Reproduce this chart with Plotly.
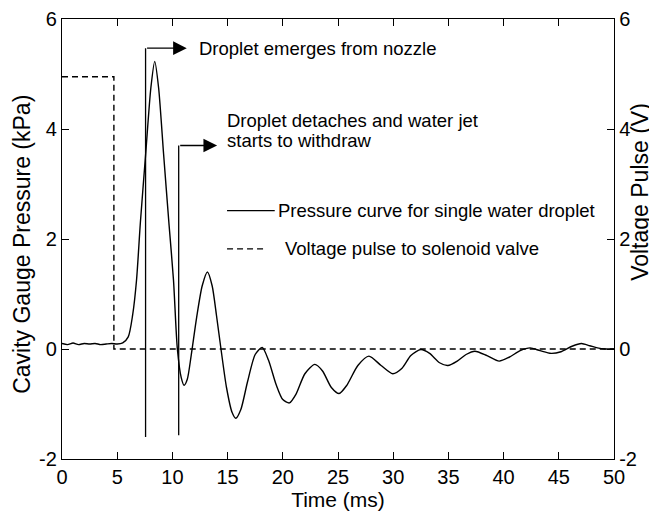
import plotly.graph_objects as go

# ---- data ----
time_ms = [0, 0.5, 1.0, 1.5, 2.0, 2.5, 3.0, 3.5, 4.0, 4.5, 5.0, 5.5,
           6.0, 6.4, 6.75, 7.1, 7.6, 8.05, 8.4, 8.75, 9.2, 9.7,
           10.1, 10.45, 10.8, 11.06, 11.35, 11.7, 12.2, 12.7, 13.17, 13.6, 14.0,
           14.4, 14.9, 15.4, 15.74, 16.2, 16.8, 17.5, 18.13, 18.7, 19.4, 20.0,
           20.6, 21.2, 22.0, 22.9, 23.6, 24.4, 25.1, 25.8, 26.8, 27.8, 28.9,
           29.96, 30.8, 31.6, 32.5, 33.3, 34.2, 34.95, 35.8, 36.6, 37.4, 38.5,
           39.6, 40.5, 41.5, 42.4, 43.3, 44.3, 45.2, 46.2, 47.05, 47.8, 48.5,
           49.2, 50.0]
pressure_kpa = [0.10, 0.08, 0.11, 0.08, 0.10, 0.09, 0.10, 0.08, 0.09, 0.10, 0.09, 0.11,
                0.22, 0.62, 1.25, 2.30, 3.60, 4.75, 5.23, 4.75, 3.55, 2.25,
                1.25, 0.0, -0.52, -0.66, -0.55, -0.12, 0.58, 1.15, 1.40, 1.15, 0.60,
                0.0, -0.70, -1.15, -1.26, -1.10, -0.60, -0.10, 0.03, -0.20, -0.65, -0.92,
                -0.98, -0.82, -0.45, -0.28, -0.40, -0.70, -0.81, -0.66, -0.30, -0.13, -0.30,
                -0.45, -0.35, -0.12, -0.01, -0.08, -0.25, -0.30, -0.22, -0.10, -0.04, -0.12,
                -0.22, -0.15, -0.03, 0.02, -0.03, -0.08, -0.05, 0.05, 0.10, 0.06, 0.02,
                0.0, 0.0]

pulse_time = [0, 4.7, 4.7, 50]
pulse_volt = [4.95, 4.95, 0, 0]

x_ticks = [0, 5, 10, 15, 20, 25, 30, 35, 40, 45, 50]
y_ticks = [-2, 0, 2, 4, 6]
y_tick_text = ["-2", "0", "2", "4", "6"]

# annotation brackets: (vertical x, bottom y, level y, arrow tip x, text x)
emerge = dict(xv=7.57, y0=-1.6, y1=5.47, tip=11.3, tx=12.2,
              text="Droplet emerges from nozzle")
detach = dict(xv=10.57, y0=-1.57, y1=3.70, tip=14.05, tx=14.85,
              lines=["Droplet detaches and water jet", "starts to withdraw"],
              ty=[4.15, 3.79])

legend_x = [14.95, 19.27, 18.51]
legend_y = [2.515, 1.82]
legend_tx = [19.42, 20.02]

FONT = "Liberation Sans, Arial, Helvetica, sans-serif"
TXT = dict(size=18.5, color="black", family=FONT)

fig = go.Figure()
fig.add_trace(go.Scatter(x=time_ms, y=pressure_kpa, mode="lines",
                         line=dict(color="black", width=1.4, shape="spline", smoothing=0.7),
                         showlegend=False))
fig.add_trace(go.Scatter(x=pulse_time, y=pulse_volt, mode="lines", yaxis="y2",
                         line=dict(color="black", width=1.4, dash="6px,4px"),
                         showlegend=False))
for b in (emerge, detach):
    fig.add_trace(go.Scatter(x=[b["xv"], b["xv"]], y=[b["y0"], b["y1"]], mode="lines",
                             line=dict(color="black", width=1.3), showlegend=False))
    fig.add_annotation(x=b["tip"], y=b["y1"], ax=b["xv"], ay=b["y1"], axref="x", ayref="y",
                       xref="x", yref="y", text="", showarrow=True, arrowhead=2,
                       arrowsize=2.1, arrowwidth=1.3, arrowcolor="black")

fig.add_annotation(x=emerge["tx"], y=emerge["y1"], text=emerge["text"], showarrow=False,
                   xanchor="left", yanchor="middle", font=TXT)
for line_text, ty in zip(detach["lines"], detach["ty"]):
    fig.add_annotation(x=detach["tx"], y=ty, text=line_text, showarrow=False,
                       xanchor="left", yanchor="middle", borderpad=0, font=TXT)

# manual legend
fig.add_shape(type="line", x0=legend_x[0], x1=legend_x[1], y0=legend_y[0], y1=legend_y[0],
              xref="x", yref="y", line=dict(color="black", width=1.3))
fig.add_shape(type="line", x0=legend_x[0], x1=legend_x[2], y0=legend_y[1], y1=legend_y[1],
              xref="x", yref="y", line=dict(color="black", width=1.3, dash="6px,4px"))
fig.add_annotation(x=legend_tx[0], y=legend_y[0], text="Pressure curve for single water droplet",
                   showarrow=False, xanchor="left", yanchor="middle", font=TXT)
fig.add_annotation(x=legend_tx[1], y=legend_y[1], text="Voltage pulse to solenoid valve",
                   showarrow=False, xanchor="left", yanchor="middle", font=TXT)

# axis titles as annotations (positioned like the reference)
fig.add_annotation(x=-0.0725, y=0.489, xref="paper", yref="paper", text="Cavity Gauge Pressure (kPa)",
                   textangle=-90, showarrow=False, xanchor="center", yanchor="middle",
                   font=dict(size=23, color="black", family=FONT))
fig.add_annotation(x=1.047, y=0.607, xref="paper", yref="paper", text="Voltage Pulse (V)",
                   textangle=-90, showarrow=False, xanchor="center", yanchor="middle",
                   font=dict(size=23, color="black", family=FONT))

axis_common = dict(showline=True, linecolor="black", linewidth=1.3, ticks="inside",
                   ticklen=7, tickwidth=1.2, tickcolor="black", showgrid=False, zeroline=False,
                   automargin=False, tickfont=dict(size=20, color="black", family=FONT))

# page body has an 8px margin, so the figure is sized to fit the 657x518 window
fig.update_layout(
    width=649, height=510,
    margin=dict(l=54, r=43, t=11, b=59),
    paper_bgcolor="white", plot_bgcolor="white",
    font=dict(family=FONT, color="black"),
    xaxis=dict(range=[0, 50], tickvals=x_ticks, mirror="ticks",
               title=dict(text="Time (ms)", font=dict(size=21, family=FONT), standoff=2),
               **axis_common),
    yaxis=dict(range=[-2, 6], tickvals=y_ticks, ticktext=y_tick_text, mirror="ticks",
               **axis_common),
    yaxis2=dict(range=[-2, 6], tickvals=y_ticks, ticktext=y_tick_text, overlaying="y", side="right",
                **axis_common),
)

fig.write_html("out.html")
